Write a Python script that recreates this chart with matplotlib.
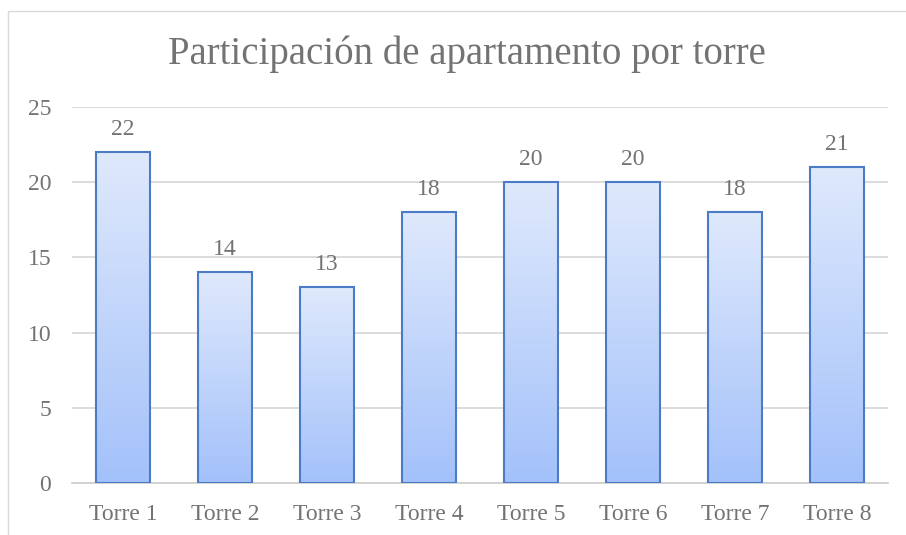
import matplotlib
matplotlib.use('Agg')
import matplotlib.pyplot as plt
import numpy as np
from matplotlib.patches import Rectangle
from matplotlib.colors import LinearSegmentedColormap

plt.rcParams['font.family'] = 'Liberation Serif'

# ===== data =====
torres = ["Torre 1", "Torre 2", "Torre 3", "Torre 4", "Torre 5", "Torre 6", "Torre 7", "Torre 8"]
apartamentos = [22, 14, 13, 18, 20, 20, 18, 21]

TEXT = "#737373"
grad = LinearSegmentedColormap.from_list("g", ["#a3c1fa", "#dfe9fc"])

fig = plt.figure(figsize=(9.06, 5.35), dpi=100)
ax = fig.add_axes([72 / 906, 1 - 483 / 535, 816 / 906, 376 / 535])

# chart border (only top/left visible)
fig.patches.append(Rectangle((8 / 906, -0.1), 1.1, 1 - 11 / 535 + 0.1,
                             transform=fig.transFigure, fill=False,
                             edgecolor="#d9d9d9", linewidth=1.0))

x = np.arange(len(torres))
bars = ax.bar(x, apartamentos, width=0.52, color="none",
              edgecolor="#4a7bc4", linewidth=1.5, zorder=3)

# gradient fill
img = np.linspace(0, 1, 256).reshape(-1, 1)
for b in bars:
    x0, h, w = b.get_x(), b.get_height(), b.get_width()
    im = ax.imshow(img, cmap=grad, origin="lower", aspect="auto",
                   extent=[x0, x0 + w, 0, h], zorder=2)
    im.set_clip_path(b)
    ax.text(x0 + w / 2, h + 0.8, str(h), ha="center", va="bottom",
            fontsize=17, color=TEXT)

ax.set_xlim(-0.5, len(torres) - 0.5)
ax.set_ylim(0, 25)
ax.set_yticks([0, 5, 10, 15, 20, 25])
ax.set_xticks(x)
ax.set_xticklabels(torres)
ax.tick_params(axis="both", length=0, labelsize=17, labelcolor=TEXT)
ax.tick_params(axis="y", pad=15)
ax.tick_params(axis="x", pad=15)

ax.grid(axis="y", color="#d9d9d9", linewidth=1.3, zorder=0)
ax.set_axisbelow(True)
for s in ["top", "right", "left"]:
    ax.spines[s].set_visible(False)
ax.spines["bottom"].set_color("#d0d0d0")
ax.spines["bottom"].set_linewidth(1.3)

fig.text(467 / 906, 1 - 54 / 535, "Participación de apartamento por torre",
         ha="center", va="center", fontsize=28, color=TEXT)

fig.savefig("out.png", dpi=100)
